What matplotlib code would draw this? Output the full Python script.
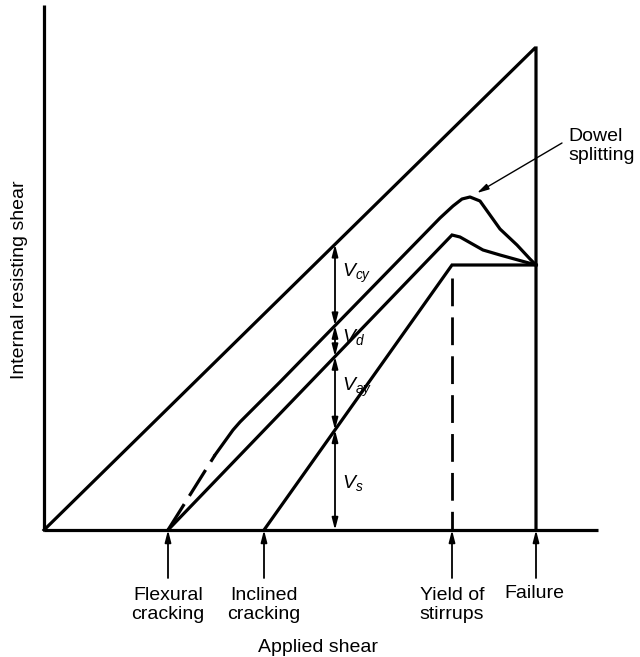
import numpy as np
import matplotlib
matplotlib.use("Agg")
import matplotlib.pyplot as plt

plt.rcParams['font.family'] = ['Liberation Sans', 'DejaVu Sans']
plt.rcParams['mathtext.fontset'] = 'custom'
plt.rcParams['mathtext.it'] = 'Liberation Sans:italic'
plt.rcParams['mathtext.rm'] = 'Liberation Sans'
plt.rcParams['lines.scale_dashes'] = False

# ---- data (applied shear x, internal resisting shear y) ----
diag_x = [0, 491]
diag_y = [0, 482]
fail_x = 492
fail_top = 482

vs_x = [220, 408, 492]
vs_y = [0, 265, 265]

mid_x = [124, 408, 416, 439, 456, 492]
mid_y = [0, 295, 293, 280, 275, 265]

top_dash_x = [124, 171]
top_dash_y = [0, 75]
top_x = [171, 189, 196, 236, 396, 409, 418, 426, 436, 446, 456, 473, 486, 492]
top_y = [75, 100, 108, 148, 312, 324, 331, 333, 329, 315, 301, 285, 271, 265]

yield_x = 408
yield_top = 252

section_x = 291
event_x = [124, 220, 408, 492]
event_labels = ["Flexural\ncracking", "Inclined\ncracking", "Yield of\nstirrups", "Failure"]
comp_labels = ["$V_{cy}$", "$V_d$", "$V_{ay}$", "$V_s$"]

fig = plt.figure(figsize=(6.4, 6.57), dpi=100)
ax = fig.add_axes([0, 0, 1, 1])
ax.set_xlim(-44, 596)
ax.set_ylim(-127, 530)
ax.axis('off')

lw = 2.3
k = 'black'
# axes
ax.plot([0, 0], [0, 525], color=k, lw=lw, solid_capstyle='butt')
ax.plot([0, 554], [0, 0], color=k, lw=lw, solid_capstyle='butt')
# diagonal + failure line
ax.plot(diag_x + [fail_x, fail_x], diag_y + [fail_top, 0], color=k, lw=lw,
        solid_joinstyle='miter')
# Vs line
ax.plot(vs_x, vs_y, color=k, lw=lw, solid_joinstyle='miter')
# middle line
ax.plot(mid_x, mid_y, color=k, lw=lw, solid_joinstyle='miter')
# top line
ax.plot(top_dash_x, top_dash_y, color=k, lw=lw, dashes=(22, 7), dash_capstyle='butt')
ax.plot(top_x, top_y, color=k, lw=lw, solid_joinstyle='round')
# yield dashed vertical
ax.plot([yield_x, yield_x], [yield_top, 0], color=k, lw=2.0, dashes=(20, 8))

# component arrows at section
y_diag = np.interp(section_x, diag_x, diag_y)
y_top = np.interp(section_x, top_x, top_y)
y_mid = np.interp(section_x, mid_x, mid_y)
y_vs = np.interp(section_x, vs_x, vs_y)
levels = [y_diag, y_top, y_mid, y_vs, 0]
for i in range(4):
    ax.annotate('', xy=(section_x, levels[i]), xytext=(section_x, levels[i + 1]),
                arrowprops=dict(arrowstyle='<|-|>,head_length=0.7,head_width=0.18',
                                color=k, lw=1.3, shrinkA=0, shrinkB=0))
lab_y = [257, 193, 143, 47]
for lab, yy in zip(comp_labels, lab_y):
    ax.text(section_x + 7, yy, lab, fontsize=14, ha='left', va='center')

# event arrows and labels
for ex, el in zip(event_x, event_labels):
    ax.annotate('', xy=(ex, 0), xytext=(ex, -48),
                arrowprops=dict(arrowstyle='-|>,head_length=0.7,head_width=0.18',
                                color=k, lw=1.3, shrinkA=0, shrinkB=0))
    if '\n' in el:
        ax.text(ex, -75, el, fontsize=14, ha='center', va='center', linespacing=1.2)
    else:
        ax.text(ex - 2, -63, el, fontsize=14, ha='center', va='center')

# dowel splitting annotation
ax.annotate('', xy=(433, 337), xytext=(518, 387),
            arrowprops=dict(arrowstyle='-|>,head_length=0.7,head_width=0.18',
                            color=k, lw=1.0, shrinkA=0, shrinkB=0))
ax.text(524, 384, "Dowel\nsplitting", fontsize=14, ha='left', va='center', linespacing=1.1)

ax.text(274, -117, "Applied shear", fontsize=14, ha='center', va='center')
ax.text(-24, 250, "Internal resisting shear", fontsize=14, ha='center', va='center',
        rotation=90)

fig.savefig("out.png", dpi=100)
